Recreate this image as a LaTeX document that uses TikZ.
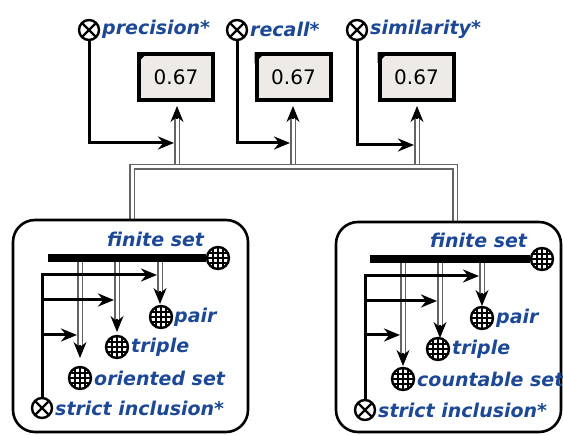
\documentclass[tikz,border=0pt]{standalone}
\usepackage{fontspec}
\newfontfamily\djv{DejaVu Sans}
\usetikzlibrary{arrows.meta,calc}
\definecolor{lblblue}{RGB}{28,72,150}
\definecolor{boxfill}{RGB}{238,235,230}
\definecolor{dblgray}{RGB}{100,100,100}
\newcommand\dbar[2]{\draw[dblline, shorten >=10pt] (#1) -- (#2); \draw[tipline] ($(#2)!13pt!(#1)$) -- (#2);}
\begin{document}
\begin{tikzpicture}[x=1pt,y=-1pt,
 lbl/.style={font=\djv\bfseries\itshape\fontsize{19}{21}\selectfont, text=lblblue, inner sep=0pt, anchor=west},
 xmark/.style={circle, draw, line width=2.4pt, minimum size=20pt, inner sep=0pt, fill=white,
   path picture={\draw[line width=2.2pt] (path picture bounding box.north west)--(path picture bounding box.south east) (path picture bounding box.north east)--(path picture bounding box.south west);}},
 hatch/.style={circle, draw, line width=2.4pt, minimum size=22pt, inner sep=0pt, fill=white,
   path picture={\foreach \t in {-5,0,5} {\draw[line width=1.1pt] ([xshift=\t pt]path picture bounding box.north) -- ([xshift=\t pt]path picture bounding box.south); \draw[line width=1.1pt] ([yshift=\t pt]path picture bounding box.west) -- ([yshift=\t pt]path picture bounding box.east);}}},
 valbox/.style={draw, line width=4pt, fill=boxfill, minimum width=74pt, minimum height=46pt, inner sep=0pt, font=\djv\fontsize{20}{22}\selectfont},
 dblline/.style={draw=dblgray, line width=1.1pt, double=white, double distance=3pt},
 tipline/.style={line width=1.6pt, -{Stealth[length=16pt,width=13pt]}},
 blk/.style={line width=3pt, -{Stealth[length=16pt,width=13pt]}},
 thick bar/.style={line width=8pt},
 frame/.style={draw, line width=2.6pt, rounded corners=22pt}
]
\useasboundingbox (0,0) rectangle (563,435);

% ---------- top ----------
\node[xmark] (xp) at (89,30) {};
\node[lbl] (lp) at (102,29) {precision*};
\node[xmark] (xr) at (237,30) {};
\node[lbl] (lr) at (250,29) {recall*};
\node[xmark] (xs) at (357,30) {};
\node[lbl] (ls) at (370,29) {similarity*};

\node[valbox] (b1) at (176,77.5) {0.67};
\node[valbox] (b2) at (293.5,77.5) {0.67};
\node[valbox] (b3) at (416.5,77.5) {0.67};
\foreach \b in {b1,b2,b3} {\fill (\b.north west) -- ++(11pt,0pt) -- ++(-11pt,-11pt) -- cycle;}

\coordinate (j1) at (177,167); \coordinate (t1) at (177,106);
\coordinate (j2) at (293,167); \coordinate (t2) at (293,106);
\coordinate (j3) at (417,167); \coordinate (t3) at (417,106);
\dbar{j1}{t1}
\dbar{j2}{t2}
\dbar{j3}{t3}

\coordinate (bl) at (132,220);
\coordinate (bll) at (132,167);
\coordinate (brr) at (455,167);
\coordinate (br) at (455,222);
\draw[dblline] (bl) -- (bll) -- (brr) -- (br);

\coordinate (ap) at (174,143);
\coordinate (ar) at (290,143);
\coordinate (as) at (414,145);
\draw[blk] (xp.south) |- (ap);
\draw[blk] (xr.south) |- (ar);
\draw[blk] (xs.south) |- (as);

% ---------- left box ----------
\draw[frame] (13,220) rectangle (248,432);
\node[lbl] (lf1) at (107,239) {finite set};
\node[hatch] (hL0) at (218,258) {};
\coordinate (L0) at (48,258);
\coordinate (L1s) at (80,258); \coordinate (L1t) at (80,358);
\coordinate (L2s) at (117,258); \coordinate (L2t) at (117,332);
\coordinate (L3s) at (160,258); \coordinate (L3t) at (160,304);
\dbar{L1s}{L1t}
\dbar{L2s}{L2t}
\dbar{L3s}{L3t}
\draw[thick bar] (L0) -- (hL0.west);
\node[hatch] (hL1) at (161,317) {};
\node[lbl] (lL1) at (174,317) {pair};
\node[hatch] (hL2) at (117,347) {};
\node[lbl] (lL2) at (131,347) {triple};
\node[hatch] (hL3) at (80,378) {};
\node[lbl] (lL3) at (94,378) {oriented set};
\node[xmark] (xL) at (42,408) {};
\node[lbl] (lL4) at (55,408) {strict inclusion*};
\coordinate (La) at (157,275);
\coordinate (Lb0) at (42,300); \coordinate (Lb) at (114,300);
\coordinate (Lc0) at (42,335); \coordinate (Lc) at (77,335);
\draw[blk] (xL.north) |- (La);
\draw[blk] (Lb0) -- (Lb);
\draw[blk] (Lc0) -- (Lc);

% ---------- right box ----------
\draw[frame] (336,222) rectangle (561,432);
\node[lbl] (rf1) at (430,240) {finite set};
\node[hatch] (hR0) at (542,259) {};
\coordinate (R0) at (370,259);
\coordinate (R1s) at (403,259); \coordinate (R1t) at (403,366);
\coordinate (R2s) at (440,259); \coordinate (R2t) at (440,338);
\coordinate (R3s) at (482,259); \coordinate (R3t) at (482,306);
\dbar{R1s}{R1t}
\dbar{R2s}{R2t}
\dbar{R3s}{R3t}
\draw[thick bar] (R0) -- (hR0.west);
\node[hatch] (hR1) at (482,318) {};
\node[lbl] (lR1) at (496,318) {pair};
\node[hatch] (hR2) at (438,349) {};
\node[lbl] (lR2) at (452,349) {triple};
\node[hatch] (hR3) at (403,379) {};
\node[lbl] (lR3) at (417,379) {countable set};
\node[xmark] (xR) at (365,410) {};
\node[lbl] (lR4) at (378,410) {strict inclusion*};
\coordinate (Ra) at (479,276);
\coordinate (Rb0) at (365,301); \coordinate (Rb) at (437,301);
\coordinate (Rc0) at (365,335); \coordinate (Rc) at (400,335);
\draw[blk] (xR.north) |- (Ra);
\draw[blk] (Rb0) -- (Rb);
\draw[blk] (Rc0) -- (Rc);
\end{tikzpicture}
\end{document}
